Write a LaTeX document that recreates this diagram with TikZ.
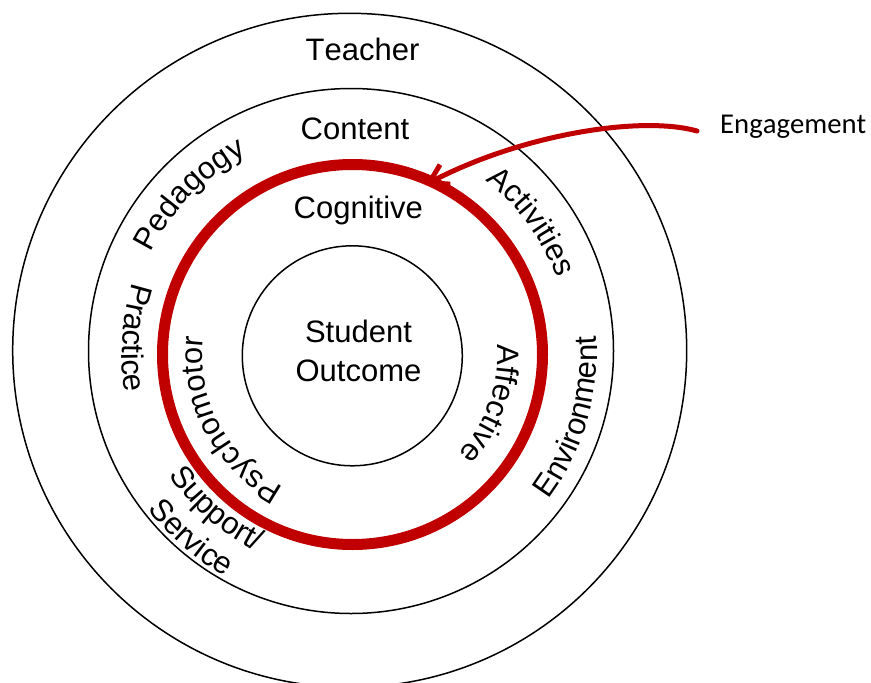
\documentclass[tikz,border=0pt]{standalone}
\usepackage{fontspec}
\setmainfont{Liberation Sans}[Kerning=Off]
\newfontfamily\engfont{Carlito}[Kerning=Off]
\usepackage{tikz}
\usetikzlibrary{calc}
\usetikzlibrary{arrows.meta}
\usetikzlibrary{decorations.text}
\definecolor{ringred}{HTML}{C00000}
\newcommand{\ringfont}{\fontsize{31}{39}\selectfont}
\tikzset{
    ring/.style={draw=black, line width=1.5pt},
    engagering/.style={draw=ringred, line width=11pt},
    lbl/.style={font=\ringfont, inner sep=0pt, anchor=base},
    ringtext/.style={
        decoration={text along path, text align=center, text={|\ringfont|#1}},
        decorate
    }
}
\newcommand{\ringLabel}[5] {
	\path[ringtext={#5}] ($(#1)+(#3:#2)$) arc [start angle=#3, end angle=#4, radius=#2];
}

\begin{document}
\begin{tikzpicture}[x=1pt, y=-1pt]
		\useasboundingbox (0,0) rectangle (871,683);
		\clip (0,0) rectangle (871,683);
		\coordinate (mid) at (352.5,354.5);
		\coordinate (mid2) at (352,353);

		% rings
		\draw[ring] (349.7,350.3) circle [radius=337];
		\draw[ring] (351,351) circle [radius=262.5];
		\draw[engagering] (mid) circle [radius=190];
		\draw[ring] (352.3,355.8) circle [radius=110];

		% straight labels
		\node[lbl] (teacher) at (362.5,60) {Teacher};
		\node[lbl] (content) at (355,139.5) {Content};
		\node[lbl] (cognitive) at (358.3,218.3) {Cognitive};
		\node[lbl, anchor=center, align=center] (outcome) at (358.5,350.5) {Student\\Outcome};

		% labels along the red ring
		\ringLabel{mid}{150}{-268}{-148}{Psychomotor}
		\ringLabel{mid}{145}{-40.5}{79.5}{Affective}

		% labels along the middle ring
		\ringLabel{mid2}{218}{-96.2}{23.8}{Activities}
		\ringLabel{mid2}{225}{-195.7}{-75.7}{Pedagogy}
		\ringLabel{mid2}{245}{76.4}{-43.6}{Environment}
		\ringLabel{mid2}{230}{-116}{-236}{Practice}
		\ringLabel{mid2}{220}{-169}{-289}{Support/}
		\ringLabel{mid2}{257}{-169}{-289}{Service}

		% engagement arrow
		\node[anchor=base west, inner sep=0pt, font=\engfont\fontsize{28.7}{34}\selectfont] (engagement) at (720,133.3) {Engagement};
		\coordinate (tail) at ($(engagement.base west)+(-23,-2.3)$);
		\coordinate (tip) at (425,185);
		\draw[ringred, line width=5pt, line cap=round, -{Straight Barb[length=18pt,width=22pt]}] (tail) .. controls (640,115) and (520,135) .. (tip);

	\end{tikzpicture}
\end{document}
